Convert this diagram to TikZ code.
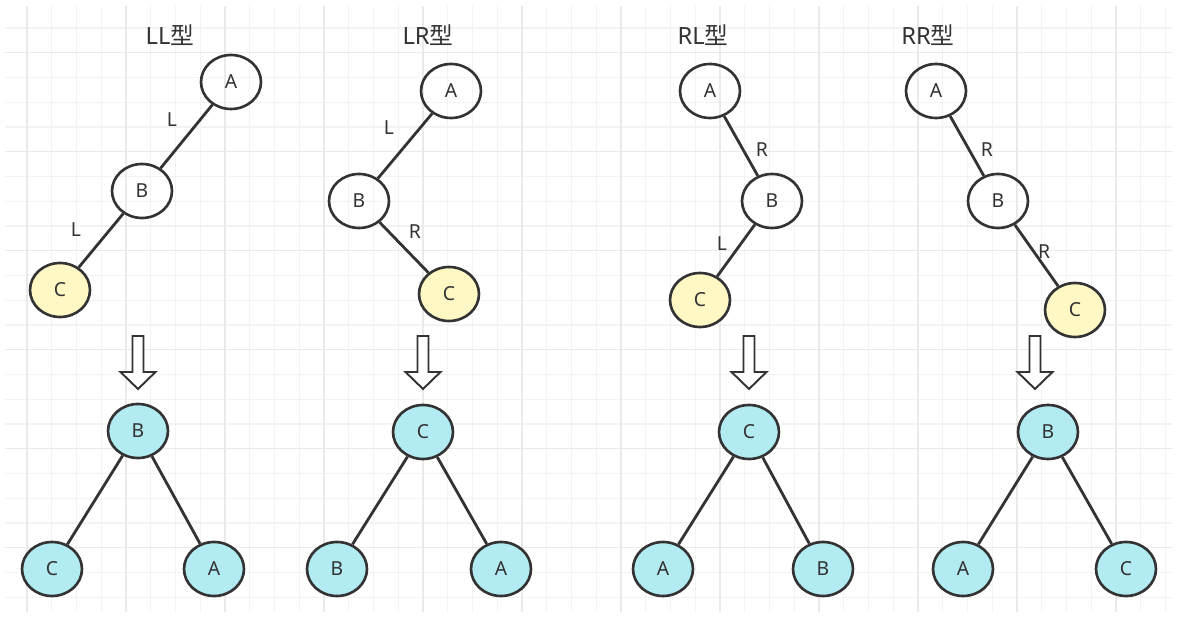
\documentclass[tikz,border=0pt]{standalone}
\usepackage{fontspec}
\setmainfont{Noto Sans}
\newfontfamily\cjk{Noto Sans CJK SC}
\usetikzlibrary{shapes.geometric}
\definecolor{ink}{HTML}{333333}
\definecolor{yel}{HTML}{FFF8C5}
\definecolor{cya}{HTML}{B2EBF2}
\definecolor{gminor}{HTML}{F3F3F3}
\definecolor{gmajor}{HTML}{EAEAEA}
\newcommand\turnarrow[1]{\draw[hollow] (#1-5.5,336) -- (#1+5.5,336) -- (#1+5.5,372) -- (#1+17.5,372) -- (#1,389) -- (#1-17.5,372) -- (#1-5.5,372) -- cycle;}

\begin{document}
\begin{tikzpicture}[x=.02cm,y=-.02cm,
	vtx/.style={ellipse,draw=ink,line width=1.5pt,minimum width=1.2cm,minimum height=1.08cm,inner sep=0pt,text=ink,font=\fontsize{11}{13}\selectfont},
	new/.style={vtx,fill=yel}, bal/.style={vtx,fill=cya},
	edge/.style={draw=ink,line width=1.6pt},
	lab/.style={text=ink,font=\fontsize{11}{13}\selectfont},
	ttl/.style={text=ink,font=\fontsize{13.5}{16}\selectfont},
	hollow/.style={draw=ink,fill=white,line width=1.1pt,line join=miter}]
	\useasboundingbox (0,0) rectangle (1177,631);
	\foreach \i in {0,...,46} \draw[gminor,line width=.6pt] ({27+24.75*\i},6) -- ({27+24.75*\i},612);
	\foreach \j in {0,...,23} \draw[gminor,line width=.6pt] (5,{28+24.75*\j}) -- (1172,{28+24.75*\j});
	\foreach \i in {0,4,...,44} \draw[gmajor,line width=.6pt] ({27+24.75*\i},6) -- ({27+24.75*\i},612);
	\foreach \j in {1,5,...,21} \draw[gmajor,line width=.6pt] (5,{28+24.75*\j}) -- (1172,{28+24.75*\j});
	
	\node[ttl] (t1) at (170,35) {LL{\cjk 型}};
	\node[vtx] (A1) at (231,82) {A};
	\node[vtx] (B1) at (142,191) {B};
	\node[new] (C1) at (60,290) {C};
	\draw[edge] (A1) -- (B1) (B1) -- (C1);
	\node[lab] (e11) at (172,120) {L}; \node[lab] (e12) at (76,230) {L};
	\turnarrow{138}
	\node[bal] (B1r) at (138,431) {B};
	\node[bal] (C1r) at (52,569) {C};
	\node[bal] (A1r) at (214,569) {A};
	\draw[edge] (B1r) -- (C1r) (B1r) -- (A1r);
	
	\node[ttl] (t2) at (428,35) {LR{\cjk 型}};
	\node[vtx] (A2) at (451,91) {A};
	\node[vtx] (B2) at (359,201) {B};
	\node[new] (C2) at (449,294) {C};
	\draw[edge] (A2) -- (B2) (B2) -- (C2);
	\node[lab] (e21) at (389,128) {L}; \node[lab] (e22) at (415,232) {R};
	\turnarrow{423}
	\node[bal] (C2r) at (423,432) {C};
	\node[bal] (B2r) at (337,569) {B};
	\node[bal] (A2r) at (501,569) {A};
	\draw[edge] (C2r) -- (B2r) (C2r) -- (A2r);
	
	\node[ttl] (t3) at (703,35) {RL{\cjk 型}};
	\node[vtx] (A3) at (710,91) {A};
	\node[vtx] (B3) at (772,201) {B};
	\node[new] (C3) at (700,300) {C};
	\draw[edge] (A3) -- (B3) (B3) -- (C3);
	\node[lab] (e31) at (762,150) {R}; \node[lab] (e32) at (722,244) {L};
	\turnarrow{749}
	\node[bal] (C3r) at (749,432) {C};
	\node[bal] (A3r) at (663,569) {A};
	\node[bal] (B3r) at (823,569) {B};
	\draw[edge] (C3r) -- (A3r) (C3r) -- (B3r);
	
	\node[ttl] (t4) at (928,35) {RR{\cjk 型}};
	\node[vtx] (A4) at (936,91) {A};
	\node[vtx] (B4) at (998,201) {B};
	\node[new] (C4) at (1075,310) {C};
	\draw[edge] (A4) -- (B4) (B4) -- (C4);
	\node[lab] (e41) at (987,150) {R}; \node[lab] (e42) at (1044,252) {R};
	\turnarrow{1035}
	\node[bal] (B4r) at (1048,432) {B};
	\node[bal] (A4r) at (963,569) {A};
	\node[bal] (C4r) at (1126,569) {C};
	\draw[edge] (B4r) -- (A4r) (B4r) -- (C4r);
\end{tikzpicture}
\end{document}
